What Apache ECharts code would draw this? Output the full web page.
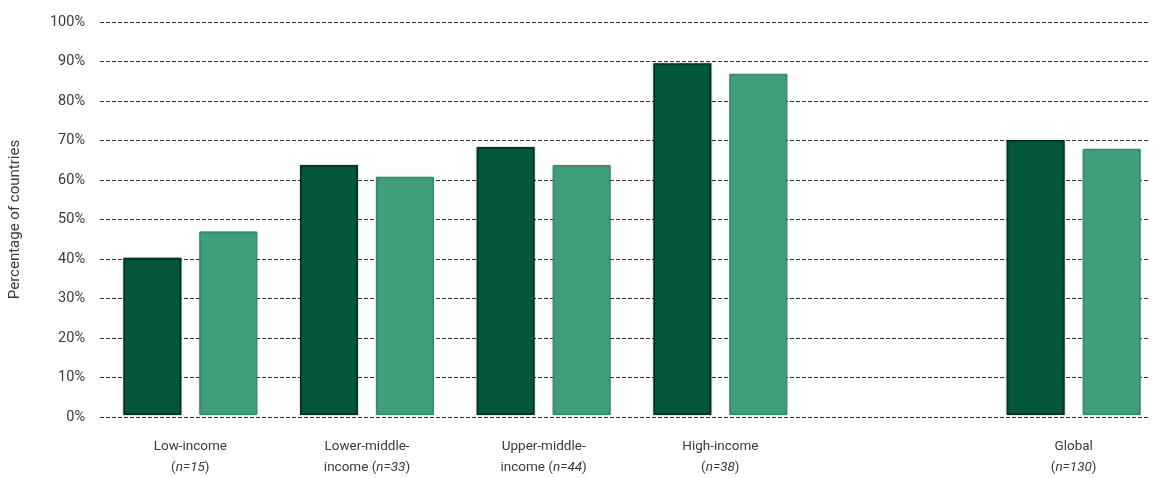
<!DOCTYPE html>
<html>
<head>
<meta charset="utf-8">
<script src="https://cdn.jsdelivr.net/npm/echarts@6/dist/echarts.min.js"></script>
<style>html,body{margin:0;padding:0;background:#fff}#c{width:1162px;height:478px}</style>
</head>
<body>
<div id="c"></div>
<script>
const categoryLines = [['Low-income'], ['Lower-middle-', 'income'], ['Upper-middle-', 'income'], ['High-income'], [], ['Global']];
const sampleSizes = ['15', '33', '44', '38', '', '130'];
const darkSeries = [40.0, 63.6, 68.2, 89.5, null, 70.0];
const lightSeries = [46.7, 60.6, 63.6, 86.8, null, 67.7];
const yTicks = [0, 10, 20, 30, 40, 50, 60, 70, 80, 90, 100];

const categories = categoryLines.map((l, i) => i);
function fmtLabel(idx) {
  const i = Number(idx);
  const lines = categoryLines[i];
  const n = sampleSizes[i];
  if (!lines.length) return '';
  const nPart = '{p|(}{i|n=' + n + '}{p|)}';
  if (lines.length === 1) return '{p|' + lines[0] + '}\n' + nPart;
  return '{p|' + lines[0] + '}\n{p|' + lines[1] + ' }' + nPart;
}

const font = 'Roboto';
const txt = '#3a3a3a';
const chart = echarts.init(document.getElementById('c'), null, {renderer: 'canvas'});
chart.setOption({
  animation: false,
  textStyle: {fontFamily: font},
  grid: [
    {left: 100, right: 12, top: 22, bottom: 61},
    {left: 102, right: 0, top: 22, bottom: 61}
  ],
  xAxis: [
    {gridIndex: 0, type: 'value', min: 0, max: 1, show: false},
    {gridIndex: 1, type: 'category', data: categories,
      axisLine: {show: false}, axisTick: {show: false},
      axisLabel: {
        interval: 0, margin: 21, formatter: fmtLabel, lineHeight: 21,
        rich: {
          p: {fontFamily: font, fontSize: 13.5, color: txt, lineHeight: 21},
          i: {fontFamily: font, fontSize: 13.5, color: txt, fontStyle: 'italic', lineHeight: 21}
        }
      }}
  ],
  yAxis: [
    {gridIndex: 0, type: 'value', min: 0, max: 100, interval: 10,
      name: 'Percentage of countries', nameLocation: 'middle', nameGap: 77,
      nameTextStyle: {fontFamily: font, fontSize: 15, color: txt},
      axisLine: {show: false}, axisTick: {show: false},
      axisLabel: {margin: 15, fontSize: 14.5, color: txt, fontFamily: font,
        formatter: v => yTicks.includes(v) ? v + '%' : ''},
      splitLine: {show: true, lineStyle: {color: '#333', type: [4, 2], width: 1}}},
    {gridIndex: 1, type: 'value', min: 0, max: 100, interval: 10, show: false, splitLine: {show: false}}
  ],
  series: [
    {name: 'Dark', type: 'bar', xAxisIndex: 1, yAxisIndex: 1, data: darkSeries,
      barWidth: 58, barGap: '31%',
      itemStyle: {color: '#04583a', borderColor: '#01331c', borderWidth: 1.5,
        shadowColor: 'rgba(0,0,0,0.35)', shadowBlur: 2}},
    {name: 'Light', type: 'bar', xAxisIndex: 1, yAxisIndex: 1, data: lightSeries,
      barWidth: 58,
      itemStyle: {color: '#409e7a', borderColor: '#2c8a63', borderWidth: 1,
        shadowColor: 'rgba(0,0,0,0.2)', shadowBlur: 2}}
  ]
});
</script>
</body>
</html>
